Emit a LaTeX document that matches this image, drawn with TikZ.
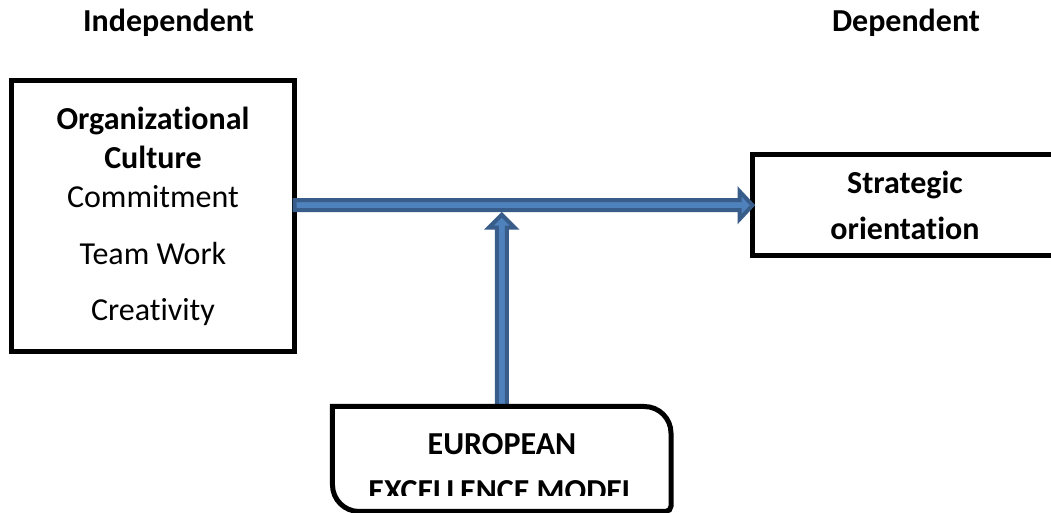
\documentclass[tikz,border=0pt]{standalone}
\usepackage{fontspec}
\setmainfont{Carlito}[Ligatures=NoCommon]
\usetikzlibrary{calc,positioning}

\definecolor{arrowfill}{HTML}{4F81BD}
\definecolor{arrowedge}{HTML}{385D8A}

\begin{document}
\begin{tikzpicture}[x=0.75pt, y=0.75pt,
    every node/.style={font=\fontsize{24}{29}\selectfont, inner sep=0pt, outer sep=0pt},
    varbox/.style={draw, line width=3.75pt, align=center},
    heading/.style={font=\fontsize{24}{29}\selectfont\bfseries, anchor=base},
    blockarrow/.style={fill=arrowfill, draw=arrowedge, line width=3pt, line join=miter}]
  \useasboundingbox (0,0) rectangle (1051,-513);
  \clip (0,0) rectangle (1051,-513);

  % column headings
  \node[heading] (indep) at (168.5,-32) {Independent};
  \node[heading] (dep) at (906,-32) {Dependent};

  % variables
  \node[varbox, minimum width=212.25pt, minimum height=203.25pt] (org) at (153,-216.5)
    {\textbf{Organizational}\\\textbf{Culture}\\Commitment\\[13.75pt]Team Work\\[13pt]Creativity};
  \node[varbox, minimum width=228.75pt, minimum height=75.4pt,
        font=\fontsize{24}{29}\selectfont\bfseries] (strat) at (905,-205.25)
    {Strategic\\[6pt]orientation};
  \node[minimum width=253.9pt, minimum height=78.75pt] (eem) at (501.75,-459) {};

  \coordinate (h0) at (org.east |- strat.west);
  \coordinate (v1) at ($(eem.north |- strat.west)+(0,-9.5)$);

  % arrows
  \draw[blockarrow] ($(h0)+(0,5)$) -- ($(strat.west)+(-13,5)$) -- ($(strat.west)+(-13,14)$)
    -- (strat.west) -- ($(strat.west)+(-13,-14)$) -- ($(strat.west)+(-13,-5)$)
    -- ($(h0)+(0,-5)$) -- cycle;
  \draw[blockarrow] ($(eem.north)+(-5,0)$) -- ($(v1)+(-5,-13)$) -- ($(v1)+(-13,-13)$)
    -- (v1) -- ($(v1)+(13,-13)$) -- ($(v1)+(5,-13)$) -- ($(eem.north)+(5,0)$) -- cycle;

  % moderator box
  \draw[line width=3.75pt] (eem.west) -- (eem.north west) [rounded corners=20]
    -- (eem.north east) [rounded corners=4] -- (eem.south east) [rounded corners=20]
    -- (eem.south west) [sharp corners] -- cycle;
  \node[heading] (eemA) at (502,-455) {EUROPEAN};
  \begin{scope}
    \clip (eem.north west) rectangle (671,-495.5);
    \node[heading] (eemB) at (502,-502) {EXCELLENCE MODEL};
  \end{scope}
\end{tikzpicture}
\end{document}
